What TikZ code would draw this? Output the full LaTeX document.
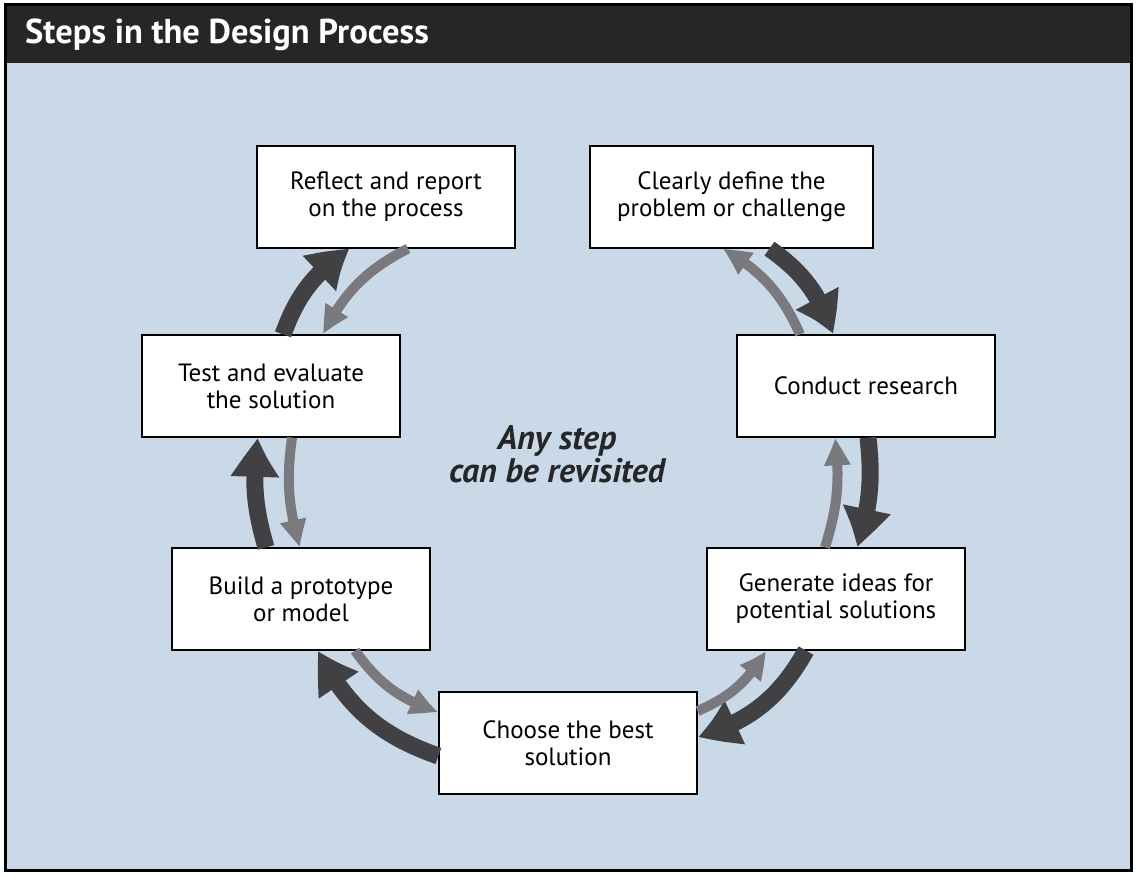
\documentclass[tikz,border=0pt]{standalone}
\usepackage{fontspec}
\setmainfont{PT Sans}
\usepackage{xcolor}
\definecolor{panelBlue}{HTML}{C9D9E8}
\definecolor{barBlack}{HTML}{262626}
\definecolor{darkArrow}{HTML}{414143}
\definecolor{lightArrow}{HTML}{7A7A7E}
\usetikzlibrary{arrows.meta, bending, positioning, calc}

\begin{document}
\begin{tikzpicture}[
    x=1pt, y=1pt,
    stepNode/.style={draw=black, fill=white, line width=1.2pt, minimum width=258pt, minimum height=102pt, inner sep=0pt, align=center, font=\fontsize{25}{27}\selectfont},
    titleNode/.style={anchor=base west, inner sep=0pt, text=white, font=\bfseries\fontsize{34.5}{36}\selectfont},
    noteNode/.style={align=center, font=\bfseries\itshape\fontsize{34}{33}\selectfont, text=black!85},
    darkArr/.style={draw=darkArrow, line width=17pt, -{Triangle[width=44pt, length=42pt, bend]}},
    grayArr/.style={draw=lightArrow, line width=10pt, -{Triangle[width=24pt, length=29pt, bend]}}
]
\useasboundingbox (0,0) rectangle (1136,876);

% Frame and title bar
\draw[line width=3pt, fill=panelBlue] (5,5) rectangle (1131,871);
\fill[barBlack] (5,813) rectangle (1131,871);
\draw[line width=3pt] (5,5) rectangle (1131,871);
\node[titleNode] (title) at (25,832) {Steps in the Design Process};

% Steps
\node[stepNode] (reflect) at (386,679) {Reflect and report\\on the process};
\node[stepNode, minimum width=283pt] (clear) at (731.5,679) {Clearly define the\\problem or challenge};
\node[stepNode] (research) at (866,490) {Conduct research};
\node[stepNode] (generate) at (836,277) {Generate ideas for\\potential solutions};
\node[stepNode] (choose) at (568,133) {Choose the best\\solution};
\node[stepNode] (build) at (301,277) {Build a prototype\\or model};
\node[stepNode] (test) at (271,490) {Test and evaluate\\the solution};

\node[noteNode] (revisit) at (557,422) {Any step\\can be revisited};

% Forward arrows
\draw[darkArr] ([xshift=38pt]clear.south) to[bend left=18] ([xshift=-33pt]research.north);
\draw[darkArr] ([xshift=2pt]research.south) to[bend left=12] ([xshift=21pt]generate.north);
\draw[darkArr] ([xshift=-30pt]generate.south) to[bend left=22] ([yshift=6pt]choose.east);
\draw[darkArr] ([yshift=-13pt]choose.west) to[bend left=22] ([xshift=17pt]build.south);
\draw[darkArr] ([xshift=-35pt]build.north) to[bend left=12] ([xshift=-13pt]test.south);
\draw[darkArr] ([xshift=12pt]test.north) to[bend left=18] ([xshift=-36pt]reflect.south);

% Backward arrows
\draw[grayArr] ([xshift=-66pt]research.north) to[bend right=18] ([xshift=-9pt]clear.south);
\draw[grayArr] ([xshift=-11pt]generate.north) to[bend right=12] ([xshift=-31pt]research.south);
\draw[grayArr] ([yshift=32pt]choose.east) to[bend right=18] ([xshift=-70pt]generate.south);
\draw[grayArr] ([xshift=54pt]build.south) to[bend right=18] ([yshift=31pt]choose.west);
\draw[grayArr] ([xshift=21pt]test.south) to[bend right=12] ([xshift=-1pt]build.north);
\draw[grayArr] ([xshift=22pt]reflect.south) to[bend right=18] ([xshift=52pt]test.north);

\end{tikzpicture}
\end{document}
